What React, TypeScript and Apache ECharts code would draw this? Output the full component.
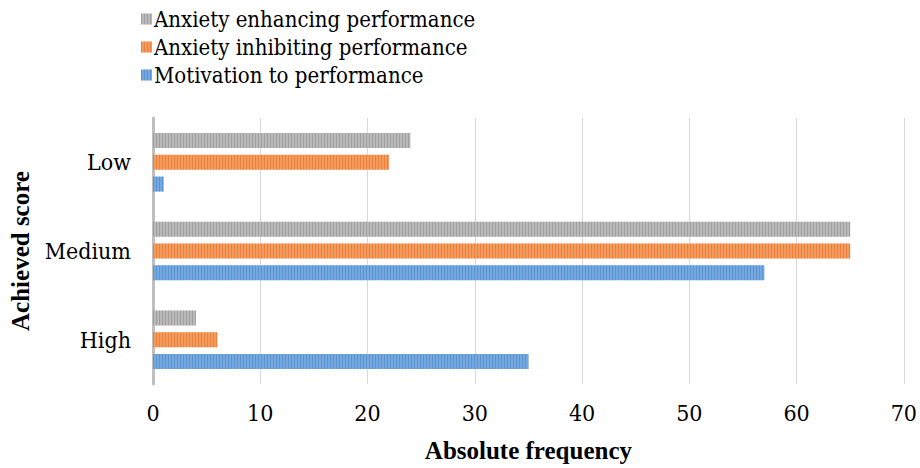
import React, { useEffect, useRef } from "react";
import * as echarts from "echarts";

const categories = ["Low", "Medium", "High"];
const seriesNames = [
  "Anxiety enhancing performance",
  "Anxiety inhibiting performance",
  "Motivation to performance",
];
const enhancing = [24, 65, 4];
const inhibiting = [22, 65, 6];
const motivation = [1, 57, 35];
const xTicks = [0, 70, 10];

const colors = ["#b9b9b9", "#f39a5e", "#74a8de"];
const stripeColors = ["rgba(140,140,140,0.55)", "rgba(230,110,30,0.55)", "rgba(70,130,200,0.55)"];

export default function App() {
  const ref = useRef<HTMLDivElement>(null);
  useEffect(() => {
    document.body.style.margin = "0";
    if (!ref.current) return;
    const chart = echarts.init(ref.current, undefined, { renderer: "svg" });
    const boldFont = "Liberation Serif";
    const font = "DejaVu Serif Condensed";
    const values = [enhancing, inhibiting, motivation];
    chart.setOption({
      animation: false,
      textStyle: { fontFamily: font },
      legend: {
        orient: "vertical",
        left: 136,
        top: 3,
        itemWidth: 11,
        itemHeight: 11,
        itemGap: 6,
        icon: "rect",
        textStyle: { fontFamily: font, fontSize: 22, color: "#000", padding: [0, 0, 0, -3] },
        data: seriesNames,
      },
      grid: { left: 151, right: 15, top: 118, bottom: 80 },
      xAxis: {
        type: "value",
        min: xTicks[0],
        max: xTicks[1],
        interval: xTicks[2],
        axisLine: { show: false },
        axisTick: { show: false },
        splitLine: { lineStyle: { color: "#d9d9d9", width: 1 } },
        axisLabel: { fontFamily: font, fontSize: 23, color: "#000", margin: 17 },
        name: "Absolute frequency",
        nameLocation: "middle",
        nameGap: 54,
        nameTextStyle: { fontFamily: boldFont, fontSize: 25, fontWeight: "bold", color: "#000" },
      },
      yAxis: {
        type: "category",
        inverse: true,
        data: categories,
        axisLine: { show: true, lineStyle: { color: "#bfbfbf", width: 3 } },
        axisTick: { show: false },
        axisLabel: { fontFamily: font, fontSize: 23, color: "#000", margin: 22 },
        name: "Achieved score",
        nameLocation: "middle",
        nameGap: 120,
        nameTextStyle: { fontFamily: boldFont, fontSize: 25, fontWeight: "bold", color: "#000" },
      },
      series: seriesNames.map((name, i) => ({
        name,
        type: "bar",
        data: values[i],
        barWidth: 15,
        barGap: "45%",
        itemStyle: {
          color: colors[i],
          decal: {
            symbol: "rect",
            symbolSize: 1,
            dashArrayX: [1, 2],
            dashArrayY: [20, 0],
            color: stripeColors[i],
          },
        },
      })),
    });
    return () => chart.dispose();
  }, []);
  return <div ref={ref} style={{ width: 920, height: 468 }} />;
}
